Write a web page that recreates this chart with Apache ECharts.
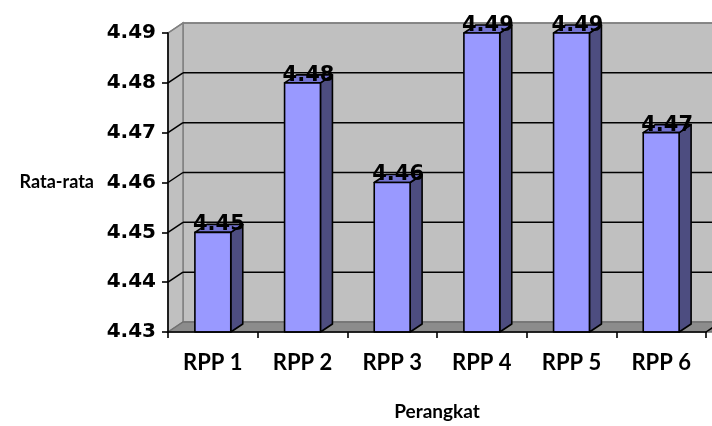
<!DOCTYPE html>
<html>
<head>
<meta charset="utf-8">
<script src="https://cdn.jsdelivr.net/npm/echarts@6/dist/echarts.min.js"></script>
<style>
html,body{margin:0;padding:0;background:#fff;overflow:hidden;}
#chart{width:712px;height:426px;}
</style>
</head>
<body>
<div id="chart"></div>
<script>
var categories = ['RPP 1', 'RPP 2', 'RPP 3', 'RPP 4', 'RPP 5', 'RPP 6'];
var values = [4.45, 4.48, 4.46, 4.49, 4.49, 4.47];
var yTicks = [4.43, 4.44, 4.45, 4.46, 4.47, 4.48, 4.49];
var yTitle = 'Rata-rata';
var xTitle = 'Perangkat';

var WALL_DX = 15, WALL_DY = -10;
var BAR_DX = 12, BAR_DY = -8;

var chart = echarts.init(document.getElementById('chart'), null, {width:712, height:426});

function renderWalls(params, api) {
  var cs = params.coordSys;
  var x0 = cs.x, x1 = cs.x + cs.width;
  var yBot = api.coord([0, yTicks[0]])[1];
  var yTop = api.coord([0, yTicks[yTicks.length - 1]])[1];
  var children = [];
  children.push({type:'polygon', shape:{points:[[x0+WALL_DX,yTop+WALL_DY],[x1+WALL_DX+20,yTop+WALL_DY],[x1+WALL_DX+20,yBot+WALL_DY],[x0+WALL_DX,yBot+WALL_DY]]},
    style:{fill:'#C0C0C0', stroke:'#808080', lineWidth:1.5}});
  children.push({type:'polygon', shape:{points:[[x0,yTop],[x0+WALL_DX,yTop+WALL_DY],[x0+WALL_DX,yBot+WALL_DY],[x0,yBot]]},
    style:{fill:'#C0C0C0', stroke:'#808080', lineWidth:1.5}});
  children.push({type:'polygon', shape:{points:[[x0,yBot],[x0+WALL_DX,yBot+WALL_DY],[x1+WALL_DX+20,yBot+WALL_DY],[x1+20,yBot]]},
    style:{fill:'#8C8C8C', stroke:'#707070', lineWidth:1.5}});
  for (var i = 1; i < yTicks.length; i++) {
    var y = api.coord([0, yTicks[i]])[1];
    var isTop = i === yTicks.length - 1;
    var col = isTop ? '#808080' : '#000';
    children.push({type:'line', shape:{x1:x0+WALL_DX, y1:y+WALL_DY, x2:x1+WALL_DX+20, y2:y+WALL_DY}, style:{stroke:col, lineWidth:1.5}});
    children.push({type:'line', shape:{x1:x0, y1:y, x2:x0+WALL_DX, y2:y+WALL_DY}, style:{stroke:col, lineWidth:1.5}});
  }
  children.push({type:'line', shape:{x1:x1, y1:yBot, x2:x1+WALL_DX, y2:yBot+WALL_DY}, style:{stroke:'#000', lineWidth:1.5}});
  return {type:'group', children:children};
}

function renderBar(params, api) {
  var idx = api.value(0);
  var val = api.value(1);
  var band = api.size([1, 0])[0];
  var w = band * 0.4;
  var c = api.coord([idx, val]);
  var b = api.coord([idx, yTicks[0]]);
  var xl = c[0] - w / 2, xr = c[0] + w / 2;
  var yt = c[1], yb = b[1];
  var ol = {stroke:'#000', lineWidth:1.6, lineJoin:'round'};
  return {type:'group', children:[
    {type:'polygon', shape:{points:[[xr,yt],[xr+BAR_DX,yt+BAR_DY],[xr+BAR_DX,yb+BAR_DY],[xr,yb]]},
      style:Object.assign({fill:'#4D4D80'}, ol)},
    {type:'polygon', shape:{points:[[xl,yt],[xl+BAR_DX,yt+BAR_DY],[xr+BAR_DX,yt+BAR_DY],[xr,yt]]},
      style:Object.assign({fill:'#7373D0'}, ol)},
    {type:'rect', shape:{x:xl, y:yt, width:w, height:yb-yt},
      style:Object.assign({fill:'#9999FF'}, ol)},
    {type:'text', style:{text:val.toFixed(2), x:c[0]+BAR_DX/2, y:yt-7.5, align:'center', verticalAlign:'middle',
      fill:'#000', font:'bold 21px "DejaVu Sans"'}}
  ]};
}

var option = {
  backgroundColor:'#ffffff',
  animation:false,
  grid:{left:168, right:6, top:33, bottom:87, containLabel:false},
  xAxis:{
    type:'category', data:categories, boundaryGap:true, z:5,
    axisLine:{lineStyle:{color:'#000', width:1.6}},
    axisTick:{show:true, length:6, lineStyle:{color:'#000', width:1.6}},
    axisLabel:{color:'#000', fontFamily:'Lato', fontWeight:'bold', fontSize:22, margin:20},
    name:xTitle, nameLocation:'middle', nameGap:70,
    nameTextStyle:{color:'#000', fontFamily:'Lato', fontWeight:'bold', fontSize:19}
  },
  yAxis:{
    type:'value', min:yTicks[0], max:yTicks[yTicks.length-1], interval:0.01, z:5,
    axisLine:{show:true, lineStyle:{color:'#000', width:1.6}},
    axisTick:{show:true, length:6, lineStyle:{color:'#000', width:1.6}},
    splitLine:{show:false},
    axisLabel:{color:'#000', fontFamily:'DejaVu Sans', fontWeight:'bold', fontSize:20, margin:12,
      formatter:function(v){return v.toFixed(2);}},
    name:yTitle, nameLocation:'middle', nameRotate:0, nameGap:74,
    nameTextStyle:{color:'#000', fontFamily:'Lato', fontWeight:'bold', fontSize:18}
  },
  series:[
    {type:'custom', z:1, renderItem:renderWalls, data:[[0, yTicks[0]]], silent:true, clip:false},
    {type:'custom', z:2, renderItem:renderBar, data:values.map(function(v,i){return [i,v];}), clip:false}
  ]
};
chart.setOption(option);
</script>
</body>
</html>
